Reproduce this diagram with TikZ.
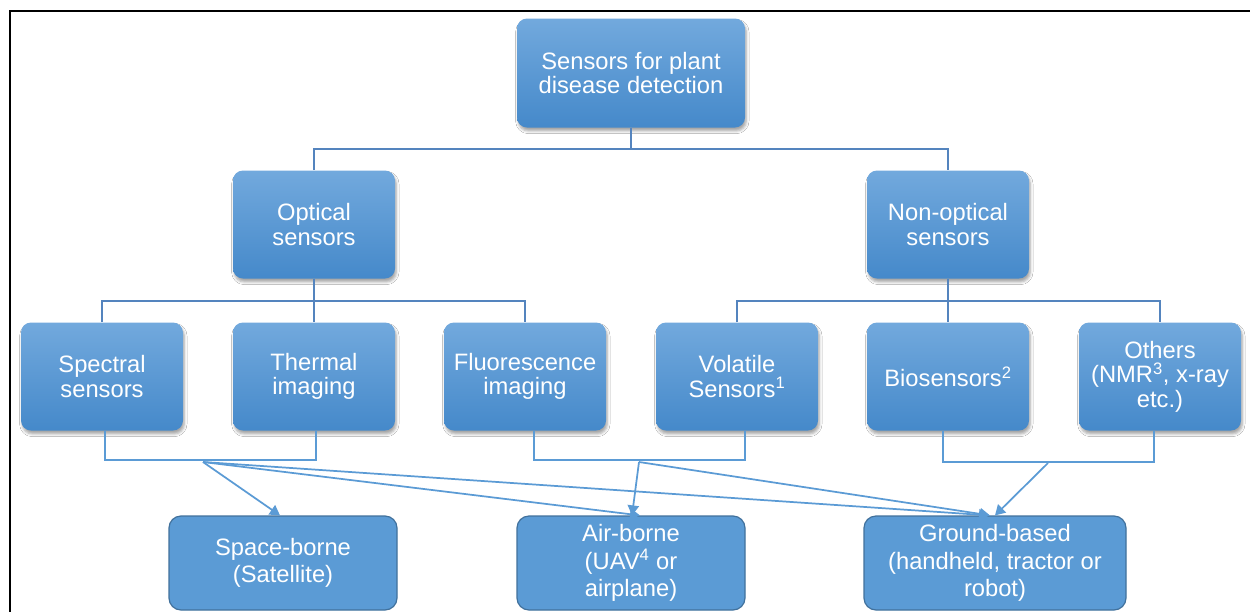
\documentclass[tikz,border=0pt]{standalone}
\usepackage{fontspec}
\setmainfont{Liberation Sans}
\usetikzlibrary{shadows.blur,arrows.meta,calc}
\definecolor{treeline}{RGB}{84,132,190}
\definecolor{lightline}{RGB}{91,155,213}
\definecolor{gtop}{RGB}{114,169,221}
\definecolor{gbot}{RGB}{69,137,202}
\definecolor{flatfill}{RGB}{91,155,213}
\definecolor{flatborder}{RGB}{65,113,156}
\begin{document}
\begin{tikzpicture}[x=0.75pt,y=-0.75pt,
  upbox/.style={rounded corners=7.5pt, minimum width=121.5pt, minimum height=81pt,
    top color=gtop, bottom color=gbot, text=white, align=center, inner sep=0pt,
    font=\fontsize{17.8}{18.4}\selectfont,
    blur shadow={shadow xshift=1pt, shadow yshift=-2.6pt, shadow blur radius=2pt, shadow opacity=35}},
  lowbox/.style={rounded corners=9pt, minimum width=171pt, minimum height=70.5pt,
    fill=flatfill, draw=flatborder, line width=0.9pt, text=white, align=center, inner sep=0pt,
    font=\fontsize{17.8}{20.6}\selectfont},
  tree/.style={draw=treeline, line width=1.5pt},
  brk/.style={draw=lightline, line width=1.3pt},
  arr/.style={draw=lightline, line width=1.3pt, -{Triangle[length=7.5pt,width=8.5pt]}}]
\useasboundingbox (0,0) rectangle (1250,611);
\fill[white] (0,0) rectangle (1250,611);
\draw[line width=1.6pt] (10,615) -- (10,11) -- (1255,11);

% nodes
\node[upbox, minimum width=171pt, minimum height=81.75pt] (top) at (631,73) {Sensors for plant\\disease detection};
\node[upbox] (opt) at (314,224.5) {Optical\\sensors};
\node[upbox] (nonopt) at (948,224.5) {Non-optical\\sensors};
\node[upbox] (spec) at (102,376.5) {Spectral\\sensors};
\node[upbox] (therm) at (314,376.5) {Thermal\\imaging};
\node[upbox] (fluo) at (525,376.5) {Fluorescence\\imaging};
\node[upbox] (vol) at (737,376.5) {Volatile\\Sensors\textsuperscript{1}};
\node[upbox] (bio) at (948,376.5) {Biosensors\textsuperscript{2}};
\node[upbox] (oth) at (1160,376.5) {Others\\(NMR\textsuperscript{3}, x-ray\\etc.)};
\node[lowbox] (space) at (283,563) {Space-borne\\(Satellite)};
\node[lowbox] (air) at (631,563) {Air-borne\\(UAV\textsuperscript{4} or\\airplane)};
\node[lowbox, minimum width=196.5pt] (ground) at (995,563) {Ground-based\\(handheld, tractor or\\robot)};

% tree connectors
\draw[tree] (top.south) -- ++(0,21.5) coordinate (tj);
\draw[tree] (opt.north) |- (tj) -| (nonopt.north);
\draw[tree] (opt.south) -- ++(0,22) coordinate (oj);
\draw[tree] (spec.north) |- (oj) -| (fluo.north);
\draw[tree] (oj) -- (therm.north);
\draw[tree] (nonopt.south) -- ++(0,22) coordinate (nj);
\draw[tree] (vol.north) |- (nj) -| (oth.north);
\draw[tree] (nj) -- (bio.north);

% brackets
\draw[brk] ($(spec.south)+(3,0)$) -- ++(0,29.5) -| ($(therm.south)+(2,0)$);
\draw[brk] ($(fluo.south)+(9,0)$) -- ++(0,29.5) -| ($(vol.south)+(8,0)$);
\draw[brk] ($(bio.south)+(-5,0)$) -- ++(0,31.5) -| ($(oth.south)+(-6,0)$);
\coordinate (b1) at (203,462);
\coordinate (b2) at (639,462);
\coordinate (b3) at (1048,463);

% arrows
\draw[arr] (b1) -- ($(space.north)+(-3,0)$);
\draw[arr] (b1) -- ($(air.north)+(9,0)$);
\draw[arr] (b1) -- ($(ground.north)+(-6,0)$);
\draw[arr] (b2) -- ($(air.north)+(1,0)$);
\draw[arr] (b2) -- ($(ground.north)+(-5,0)$);
\draw[arr] (b3) -- (ground.north);
\end{tikzpicture}
\end{document}
